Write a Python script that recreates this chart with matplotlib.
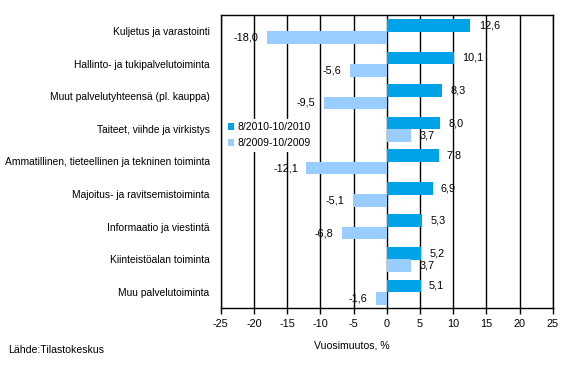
import numpy as np
import matplotlib
matplotlib.use('Agg')
import matplotlib.pyplot as plt

plt.rcParams['font.family'] = ['Liberation Sans', 'DejaVu Sans']
plt.rcParams['axes.unicode_minus'] = False

# Data
categories = [
    'Kuljetus ja varastointi',
    'Hallinto- ja tukipalvelutoiminta',
    'Muut palvelutyhteensä (pl. kauppa)',
    'Taiteet, viihde ja virkistys',
    'Ammatillinen, tieteellinen ja tekninen toiminta',
    'Majoitus- ja ravitsemistoiminta',
    'Informaatio ja viestintä',
    'Kiinteistöalan toiminta',
    'Muu palvelutoiminta',
]
values_2010 = [12.6, 10.1, 8.3, 8.0, 7.8, 6.9, 5.3, 5.2, 5.1]
values_2009 = [-18.0, -5.6, -9.5, 3.7, -12.1, -5.1, -6.8, 3.7, -1.6]
series_labels = ['8/2010-10/2010', '8/2009-10/2009']
xticks = [-25, -20, -15, -10, -5, 0, 5, 10, 15, 20, 25]

dark = '#00A2E8'
light = '#99CCFF'

fig = plt.figure(figsize=(5.68, 3.73), dpi=100)
ax = fig.add_axes([0.3886, 0.1743, 0.5845, 0.7855])

y = np.arange(len(categories))
h = 0.39
b1 = ax.barh(y - 0.18, values_2010, height=h, color=dark, label=series_labels[0], zorder=3)
b2 = ax.barh(y + 0.20, values_2009, height=h, color=light, label=series_labels[1], zorder=3)

def fmt(v):
    return ('%.1f' % v).replace('.', ',')

for bars, vals in [(b1, values_2010), (b2, values_2009)]:
    for bar, v in zip(bars, vals):
        yc = bar.get_y() + bar.get_height() / 2
        if v >= 0:
            ax.annotate(fmt(v), (v, yc), xytext=(6, 0), textcoords='offset points',
                        ha='left', va='center', fontsize=7.8, zorder=5)
        else:
            ax.annotate(fmt(v), (v, yc), xytext=(-6, 0), textcoords='offset points',
                        ha='right', va='center', fontsize=7.8, zorder=5)

ax.set_xlim(-25, 25)
ax.set_ylim(len(categories) - 0.5, -0.5)
ax.set_xticks(xticks)
ax.set_xticklabels([str(t) for t in xticks], fontsize=7.8)
ax.set_yticks(y)
ax.set_yticklabels(categories, fontsize=7.4)
ax.tick_params(axis='y', length=0, pad=8)
ax.tick_params(axis='x', length=4, width=1, direction='out', pad=4)

ax.grid(axis='x', color='black', linewidth=1, zorder=1)
for s in ax.spines.values():
    s.set_color('black')
    s.set_linewidth(1)

ax.set_xlabel('Vuosimuutos, %', fontsize=7.6)
ax.xaxis.set_label_coords(0.395, -0.11)

leg = ax.legend(loc='upper left', bbox_to_anchor=(0.012, 0.645), fontsize=7.5,
                frameon=True, fancybox=False, edgecolor='none', facecolor='white',
                framealpha=1, handlelength=0.6, handleheight=0.6, handletextpad=0.3,
                borderpad=0.3, labelspacing=0.6, borderaxespad=0)
leg.set_zorder(4)

fig.text(0.014, 0.062, 'Lähde:Tilastokeskus', fontsize=7.6, ha='left', va='center')

plt.savefig('out.png', dpi=100)
